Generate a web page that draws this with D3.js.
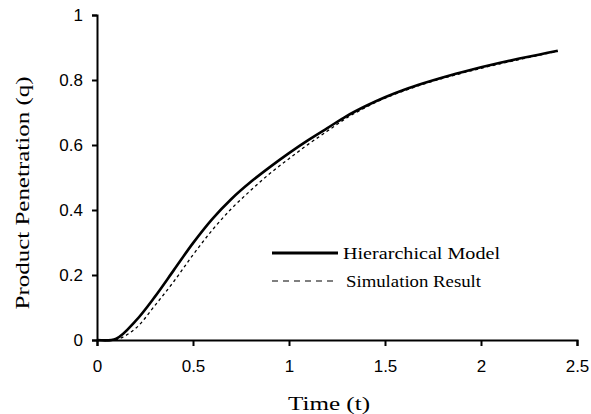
<!DOCTYPE html>
<html><head><meta charset="utf-8">
<script src="https://cdn.jsdelivr.net/npm/d3@7"></script>
<style>body{margin:0;background:#fff}svg{display:block}</style>
</head><body>
<script>
const timeT = [0,0.1,0.2,0.3,0.4,0.5,0.6,0.7,0.8,0.9,1.0,1.1,1.2,1.3,1.4,1.5,1.6,1.7,1.8,1.9,2.0,2.1,2.2,2.3,2.4];
const hierarchical = [0,0.004,0.058,0.132,0.215,0.298,0.372,0.434,0.486,0.532,0.575,0.615,0.652,0.689,0.72,0.747,0.77,0.79,0.808,0.824,0.839,0.853,0.866,0.878,0.89];
const simulation = [0,0.001,0.035,0.105,0.18,0.262,0.338,0.404,0.46,0.512,0.558,0.602,0.643,0.683,0.716,0.744,0.767,0.787,0.805,0.821,0.836,0.85,0.863,0.876,0.888];
const xTicks = [0,0.5,1,1.5,2,2.5];
const yTicks = [0,0.2,0.4,0.6,0.8,1];
const seriesNames = ["Hierarchical Model","Simulation Result"];

const W=591,H=414;
const svg=d3.select("body").append("svg").attr("width",W).attr("height",H);
const x=d3.scaleLinear().domain([0,2.5]).range([97,577]);
const y=d3.scaleLinear().domain([0,1]).range([340,15]);

const sans="Arial, 'Liberation Sans', sans-serif";
const serif="'Times New Roman', 'Liberation Serif', serif";

const xa=svg.append("g").attr("transform","translate(0,340)")
  .call(d3.axisBottom(x).tickValues(xTicks).tickFormat(d=>String(d)).tickSizeOuter(0).tickSize(6).tickPadding(14));
const ya=svg.append("g").attr("transform","translate(97,0)")
  .call(d3.axisLeft(y).tickValues(yTicks).tickFormat(d=>String(d)).tickSizeOuter(0).tickSize(5).tickPadding(9));
[xa,ya].forEach(a=>{
  a.selectAll("path,line").attr("stroke","#000").attr("stroke-width",2);
  a.selectAll("text").attr("font-family",sans).attr("font-size",17).attr("fill","#000");
});

const line=d3.line().x((d,i)=>x(timeT[i])).y(d=>y(d)).curve(d3.curveCatmullRom.alpha(0.5));
svg.append("path").datum(simulation).attr("d",line).attr("fill","none")
  .attr("stroke","#000").attr("stroke-width",1.3).attr("stroke-dasharray","3,3");
svg.append("path").datum(hierarchical).attr("d",line).attr("fill","none")
  .attr("stroke","#000").attr("stroke-width",2.6);

// legend
const leg=svg.append("g");
leg.append("line").attr("x1",272).attr("x2",338).attr("y1",253).attr("y2",253).attr("stroke","#000").attr("stroke-width",3);
leg.append("line").attr("x1",272).attr("x2",338).attr("y1",281).attr("y2",281).attr("stroke","#000").attr("stroke-width",1.2).attr("stroke-dasharray","6,5");
leg.append("text").attr("x",343).attr("y",259).text(seriesNames[0])
  .attr("font-family",serif).attr("font-size",16).attr("textLength",157).attr("lengthAdjust","spacingAndGlyphs");
leg.append("text").attr("x",346).attr("y",287).text(seriesNames[1])
  .attr("font-family",serif).attr("font-size",16).attr("textLength",135).attr("lengthAdjust","spacingAndGlyphs");

svg.append("text").attr("x",329).attr("y",410).attr("text-anchor","middle")
  .attr("font-family",serif).attr("font-size",19).attr("textLength",82).attr("lengthAdjust","spacingAndGlyphs").text("Time (t)");
svg.append("text").attr("transform","translate(29,193) rotate(-90)").attr("text-anchor","middle")
  .attr("font-family",serif).attr("font-size",19).attr("textLength",233).attr("lengthAdjust","spacingAndGlyphs").text("Product Penetration (q)");
</script>
</body></html>
